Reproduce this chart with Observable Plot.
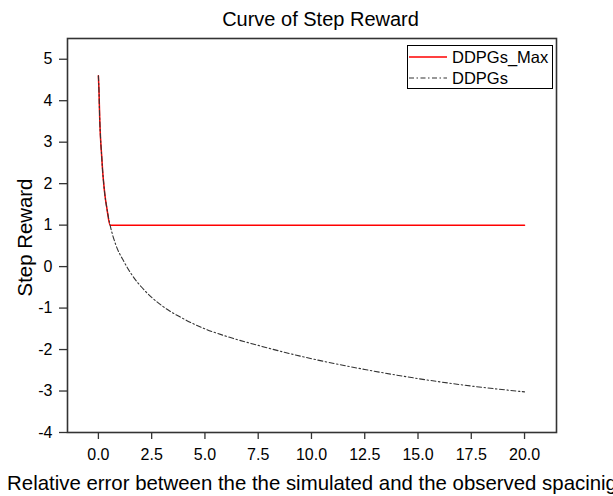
<!DOCTYPE html>
<html>
<head>
<meta charset="utf-8">
<script src="https://cdn.jsdelivr.net/npm/d3@7"></script>
<script src="https://cdn.jsdelivr.net/npm/@observablehq/plot@0.6"></script>
<style>
  html, body { margin: 0; padding: 0; background: #fff; }
  #wrap { position: relative; width: 613px; height: 496px; overflow: hidden; font-family: "Liberation Sans", Arial, sans-serif; }
  #legend { position: absolute; left: 407px; top: 45px; width: 144px; height: 42px; border: 1px solid #000; background: #fff; box-sizing: content-box; }
  .row { position: absolute; left: 0; height: 20px; display: flex; align-items: center; font-size: 16.5px; color: #000; }
  .row svg { margin-left: 1px; margin-right: 5px; }
</style>
</head>
<body>
<div id="wrap"></div>
<script>
const title = "Curve of Step Reward";
const xLabel = "Relative error between the the simulated and the observed spacinig";
const yLabel = "Step Reward";
const seriesNames = ["DDPGs_Max", "DDPGs"];
const xTicks = [0, 2.5, 5, 7.5, 10, 12.5, 15, 17.5, 20];
const yTicks = [-4, -3, -2, -1, 0, 1, 2, 3, 4, 5];

const ddpgsX = [0, 0.03, 0.06, 0.1, 0.15, 0.2, 0.25, 0.3, 0.4, 0.55, 0.8, 1.2, 1.6, 2.0, 2.5, 3.0, 4.0, 5.0, 6.0, 7.5, 9.0, 10, 12.5, 15, 17.5, 20];
const ddpgsY = [4.6, 4.2, 3.6, 3.1, 2.7, 2.3, 2.0, 1.75, 1.4, 1.0, 0.55, 0.12, -0.22, -0.48, -0.74, -0.95, -1.26, -1.5, -1.68, -1.9, -2.1, -2.22, -2.48, -2.7, -2.88, -3.02];

const maxX = [0, 0.03, 0.06, 0.1, 0.15, 0.2, 0.25, 0.3, 0.4, 0.55, 20];
const maxY = [4.6, 4.2, 3.6, 3.1, 2.7, 2.3, 2.0, 1.75, 1.4, 1.0, 1.0];

const ddpgs = ddpgsX.map((x, i) => ({x, y: ddpgsY[i]}));
const ddpgsMax = maxX.map((x, i) => ({x, y: maxY[i]}));

const font = "Liberation Sans, Arial, sans-serif";
const dashDot = "5,2.5,1.5,2.5";

const chart = Plot.plot({
  width: 613,
  height: 496,
  marginLeft: 67,
  marginRight: 57,
  marginTop: 38,
  marginBottom: 64,
  style: { fontFamily: font, fontSize: "16px", color: "#000", background: "#fff" },
  x: { domain: [-1.45, 21.5], ticks: xTicks, tickFormat: d => d.toFixed(1), tickSize: 7, tickPadding: 9, label: null },
  y: { domain: [-4, 5.5], ticks: yTicks, tickFormat: d => String(d), tickSize: 8, tickPadding: 7, label: null },
  marks: [
    Plot.axisX({ticks: xTicks, tickFormat: d => d.toFixed(1), tickSize: 7, tickPadding: 9, label: null, stroke: "#333", strokeWidth: 1.3, fontSize: 16}),
    Plot.axisY({ticks: yTicks, tickFormat: d => String(d), tickSize: 8, tickPadding: 7, label: null, stroke: "#333", strokeWidth: 1.3, fontSize: 16}),
    Plot.line(ddpgsMax, {x: "x", y: "y", stroke: "#ff0000", strokeWidth: 1.5, curve: "monotone-x"}),
    Plot.line(ddpgs, {x: "x", y: "y", stroke: "#333333", strokeWidth: 1.1, strokeDasharray: dashDot, curve: "monotone-x"}),
    Plot.frame({stroke: "#333", strokeWidth: 1.6}),
    Plot.text([title], {frameAnchor: "top", dx: 8.5, dy: -13, lineAnchor: "bottom", textAnchor: "middle", fontSize: 20, fill: "#000", text: d => d}),
    Plot.text([xLabel], {frameAnchor: "bottom", dy: 57, lineAnchor: "bottom", textAnchor: "middle", fontSize: 20.4, fill: "#000", text: d => d}),
    Plot.text([yLabel], {frameAnchor: "left", dx: -42, dy: 2, rotate: -90, lineAnchor: "middle", textAnchor: "middle", fontSize: 20.4, fill: "#000", text: d => d})
  ]
});

const wrap = document.getElementById("wrap");
wrap.appendChild(chart);

const legend = document.createElement("div");
legend.id = "legend";
const styles = [
  {stroke: "#ff0000", width: 1.5, dash: null},
  {stroke: "#333333", width: 1.1, dash: dashDot}
];
seriesNames.forEach((name, i) => {
  const row = document.createElement("div");
  row.className = "row";
  row.style.top = (1 + i * 21) + "px";
  const s = styles[i];
  row.innerHTML = `<svg width="38" height="10"><line x1="0" x2="38" y1="5" y2="5" stroke="${s.stroke}" stroke-width="${s.width}" ${s.dash ? `stroke-dasharray="${s.dash}"` : ""}/></svg><span>${name}</span>`;
  legend.appendChild(row);
});
wrap.appendChild(legend);
</script>
</body>
</html>
